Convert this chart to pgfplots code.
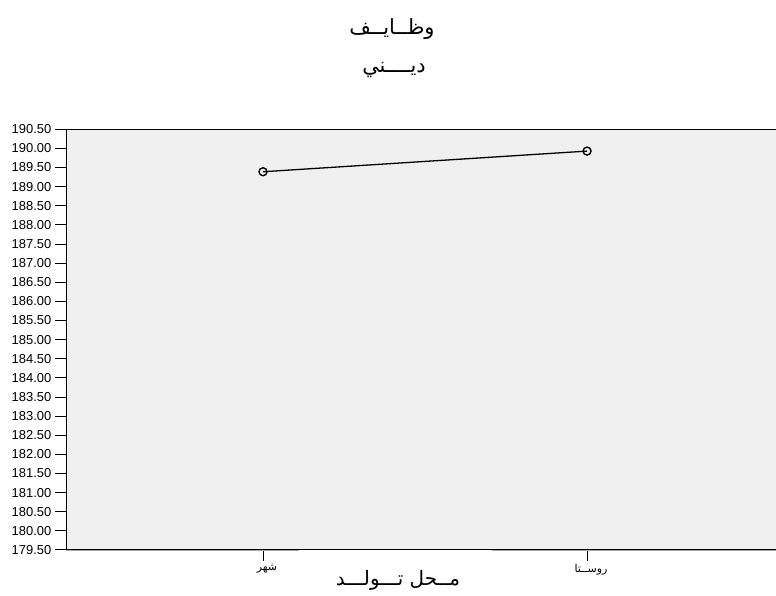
\documentclass[border=0pt]{standalone}
\usepackage{pgfplots}
\pgfplotsset{compat=1.18}
\usepackage{fontspec}
\setmainfont{Liberation Sans}
\newfontfamily\arabicfont[Script=Arabic]{DejaVu Sans}
\TeXXeTstate=1
\definecolor{plotbg}{RGB}{240,240,240}

\begin{document}
\begin{tikzpicture}[x=1bp,y=1bp]
\path[use as bounding box] (0,0) rectangle (776,596);
\begin{axis}[
  at={(66bp,46bp)}, anchor=south west,
  scale only axis, width=720bp, height=420.7bp,
  xmin=-0.608, xmax=1.614,
  ymin=179.5, ymax=190.5,
  ytick distance=0.5,
  xtick={0,1},
  xticklabels={{\beginR شهر\endR},{\beginR روســتا\endR}},
  axis line style={line width=1bp},
  every tick/.style={black, line width=1bp},
  tick align=outside, major tick length=11bp,
  xtick pos=bottom, ytick pos=left,
  axis background/.style={fill=plotbg},
  /pgf/number format/assume math mode=true,
  /pgf/number format/fixed,
  /pgf/number format/fixed zerofill,
  /pgf/number format/precision=2,
  ticklabel style={font=\fontsize{13}{15}\selectfont},
  yticklabel style={inner sep=3.5bp},
  xticklabel style={font=\arabicfont\fontsize{11}{13}\selectfont, xshift=4bp, inner sep=3bp},
]
\addplot[black, line width=1.3bp, mark=o, mark size=4bp, mark options={line width=1.4bp}]
  coordinates {(0,189.39) (1,189.93)};
\end{axis}
\draw[gray!70, line width=0.8bp] (66,45.1) -- (299,45.1) (492,45.1) -- (776,45.1);
\node[font=\arabicfont\fontsize{21}{24}\selectfont] at (392,567) {\beginR وظــايــف\endR};
\node[font=\arabicfont\fontsize{21}{24}\selectfont] at (394,526) {\beginR ديــــني\endR};
\node[font=\arabicfont\fontsize{20}{24}\selectfont] at (398,16) {\beginR مــحل  تـــولـــد\endR};
\end{tikzpicture}
\end{document}
